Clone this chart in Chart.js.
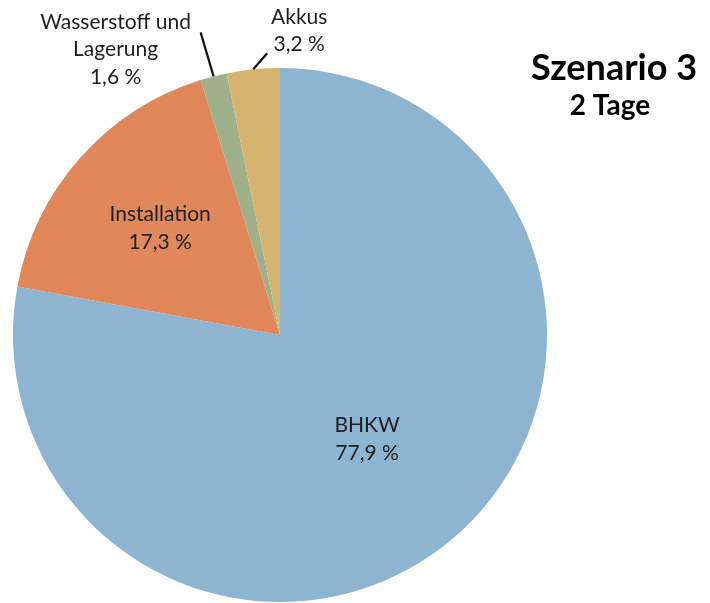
<!DOCTYPE html>
<html>
<head>
<meta charset="utf-8">
<script src="https://cdn.jsdelivr.net/npm/chart.js@4/dist/chart.umd.min.js"></script>
<style>
  html, body { margin: 0; padding: 0; background: #fff; }
  #wrap { width: 710px; height: 603px; }
</style>
</head>
<body>
<div id="wrap"><canvas id="pie"></canvas></div>
<script>
var categories = ['BHKW', 'Installation', 'Wasserstoff und Lagerung', 'Akkus'];
var shares = [77.9, 17.3, 1.6, 3.2];
var sliceColors = ['#8db4d0', '#e0885a', '#9fb08a', '#d5b46f'];

var FONT = 'Lato, "DejaVu Sans", sans-serif';

function pct(v) {
    return v.toFixed(1).replace('.', ',') + ' %';
}

// label text drawn inside or outside each slice
var sliceLabels = {
    afterDatasetsDraw: function(chart) {
        var ctx = chart.ctx;
        var arcs = chart.getDatasetMeta(0).data;
        ctx.save();
        ctx.fillStyle = '#1e1e1e';
        ctx.font = '21px ' + FONT;
        ctx.textAlign = 'center';
        ctx.textBaseline = 'middle';

        function polar(arc, f) {
            var a = (arc.startAngle + arc.endAngle) / 2;
            return { x: arc.x + Math.cos(a) * arc.outerRadius * f,
                     y: arc.y + Math.sin(a) * arc.outerRadius * f };
        }

        // inside labels
        var p = polar(arcs[0], 0.51);
        ctx.fillText(categories[0], p.x, p.y - 14);
        ctx.fillText(pct(shares[0]), p.x, p.y + 14);

        p = polar(arcs[1], 0.6);
        ctx.fillText(categories[1], p.x, p.y - 14);
        ctx.fillText(pct(shares[1]), p.x, p.y + 14);

        // outside labels with leader lines
        ctx.strokeStyle = '#111';
        ctx.lineWidth = 2.2;
        var e = polar(arcs[2], 1.0);
        ctx.beginPath();
        ctx.moveTo(e.x, e.y);
        ctx.lineTo(e.x - 13, e.y - 44);
        ctx.stroke();
        var tx = e.x - 98, ty = e.y - 54;
        ctx.fillText('Wasserstoff und', tx, ty);
        ctx.fillText('Lagerung', tx, ty + 27);
        ctx.fillText(pct(shares[2]), tx, ty + 55);

        e = polar(arcs[3], 1.0);
        ctx.beginPath();
        ctx.moveTo(e.x, e.y);
        ctx.lineTo(e.x + 14, e.y - 16);
        ctx.stroke();
        tx = e.x + 46; ty = e.y - 52;
        ctx.fillText(categories[3], tx, ty);
        ctx.fillText(pct(shares[3]), tx, ty + 27);

        // heading on the right
        ctx.fillStyle = '#000';
        ctx.textBaseline = 'alphabetic';
        ctx.font = 'bold 36px ' + FONT;
        ctx.fillText('Szenario 3', 614, 80);
        ctx.font = 'bold 28px ' + FONT;
        ctx.fillText('2 Tage', 610, 115);
        ctx.restore();
    }
};

new Chart(document.getElementById('pie'), {
    type: 'pie',
    data: {
        labels: categories,
        datasets: [{
            data: shares,
            backgroundColor: sliceColors,
            borderWidth: 0
        }]
    },
    options: {
        responsive: true,
        maintainAspectRatio: false,
        animation: false,
        layout: { padding: { left: 13, right: 163, top: 68, bottom: 1 } },
        plugins: {
            legend: { display: false },
            tooltip: { enabled: false }
        }
    },
    plugins: [sliceLabels]
});
</script>
</body>
</html>
